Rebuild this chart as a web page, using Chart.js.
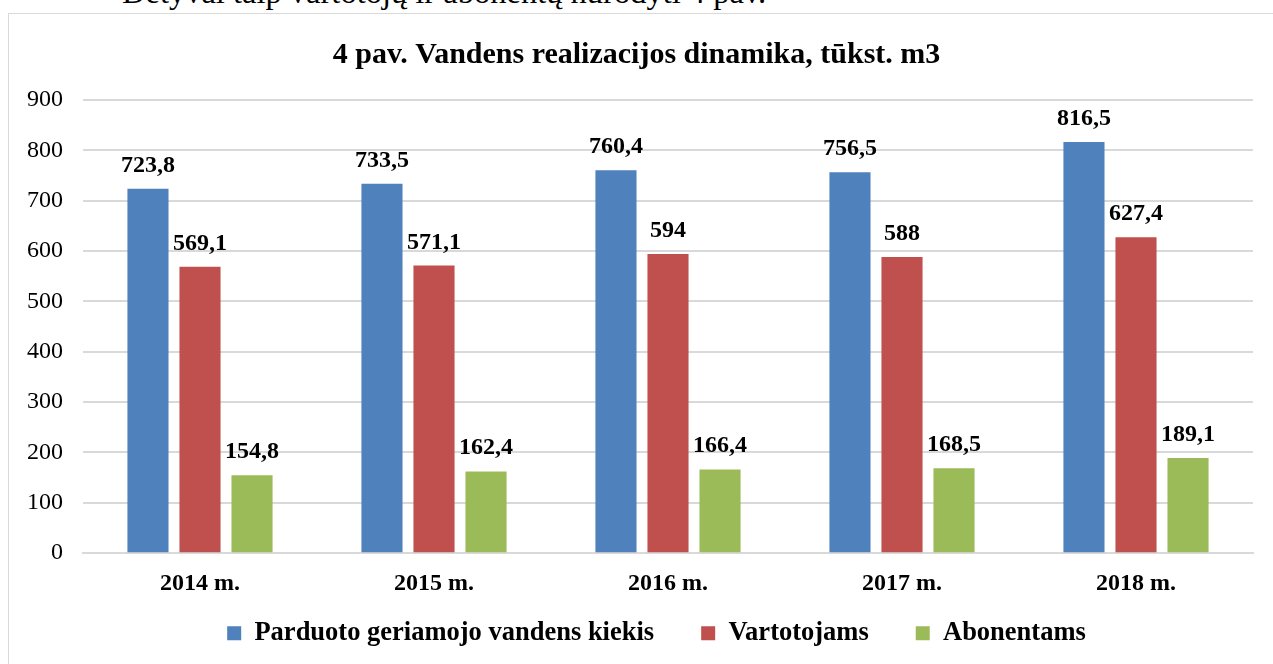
<!DOCTYPE html>
<html>
<head>
<meta charset="utf-8">
<script src="https://cdn.jsdelivr.net/npm/chart.js@4/dist/chart.umd.min.js"></script>
<style>
  html, body { margin: 0; padding: 0; background: #fff; overflow: hidden; }
  #page { position: relative; width: 1273px; height: 664px; }
  #above { position: absolute; left: 122px; top: -24px; font: 32.5px/32.5px "Liberation Serif", serif; color: #000; white-space: nowrap; }
  #frame { position: absolute; left: 8px; top: 13px; width: 1300px; height: 700px; border: 1px solid #d9d9d9; box-sizing: border-box; }
  #wrap { position: absolute; left: 0; top: 0; width: 1273px; height: 664px; }
</style>
</head>
<body>
<div id="page">
  <div id="above">Detyvai taip vartotojų ir abonentų nurodyti 4 pav.</div>
  <div id="frame"></div>
  <div id="wrap"><canvas id="chart" width="1273" height="664"></canvas></div>
</div>
<script>
'use strict';
const TITLE = '4 pav. Vandens realizacijos dinamika, tūkst. m3';
const years = ['2014 m.', '2015 m.', '2016 m.', '2017 m.', '2018 m.'];
const parduota = [723.8, 733.5, 760.4, 756.5, 816.5];
const vartotojams = [569.1, 571.1, 594, 588, 627.4];
const abonentams = [154.8, 162.4, 166.4, 168.5, 189.1];
const seriesNames = ['Parduoto geriamojo vandens kiekis', 'Vartotojams', 'Abonentams'];
const seriesColors = ['#4F81BD', '#C0504D', '#9BBB59'];

const SERIF = '"Liberation Serif", "Times New Roman", serif';

// labels above each bar, comma as decimal separator
const valueLabels = {
    id: 'valueLabels',
    afterDatasetsDraw(chart) {
        const ctx = chart.ctx;
        ctx.save();
        ctx.font = 'bold 24px ' + SERIF;
        ctx.fillStyle = '#000';
        ctx.textAlign = 'center';
        ctx.textBaseline = 'alphabetic';
        chart.data.datasets.forEach((ds, i) => {
            const meta = chart.getDatasetMeta(i);
            meta.data.forEach((bar, j) => {
                const txt = String(ds.data[j]).replace('.', ',');
                ctx.fillText(txt, bar.x, bar.y - 17);
            });
        });
        ctx.restore();
    }
};

// the legend keeps wide gaps between items but sits closer to the axis
const LEGEND_SHIFT_Y = 41;
const LEGEND_SHIFT_X = 20;
const legendNudge = {
    id: 'legendNudge',
    afterLayout(chart) {
        const lg = chart.legend;
        lg.top -= LEGEND_SHIFT_Y;
        lg.bottom -= LEGEND_SHIFT_Y;
        lg.left += LEGEND_SHIFT_X;
        lg.right += LEGEND_SHIFT_X;
    }
};

const allSeries = [parduota, vartotojams, abonentams];

new Chart(document.getElementById('chart'), {
    type: 'bar',
    data: {
        labels: years,
        datasets: allSeries.map((vals, i) => ({
            label: seriesNames[i],
            data: vals,
            backgroundColor: seriesColors[i],
            borderWidth: 0,
            categoryPercentage: 0.667,
            barPercentage: 0.79
        }))
    },
    options: {
        responsive: false,
        animation: false,
        layout: { padding: { left: 20, right: 20, top: 0, bottom: -33.5 } },
        plugins: {
            tooltip: { enabled: false },
            title: {
                display: true,
                text: TITLE,
                color: '#000',
                font: { family: SERIF, size: 30, weight: 'bold' },
                padding: { top: 37, bottom: 27 }
            },
            legend: {
                position: 'bottom',
                labels: {
                    color: '#000',
                    font: { family: SERIF, size: 26.5, weight: 'bold' },
                    boxWidth: 14,
                    boxHeight: 14,
                    padding: 47
                }
            }
        },
        scales: {
            x: {
                grid: { display: false, drawTicks: false },
                border: { color: '#d9d9d9', width: 2 },
                ticks: { color: '#000', padding: 16, font: { family: SERIF, size: 24, weight: 'bold' } }
            },
            y: {
                min: 0,
                max: 900,
                afterFit(scale) { scale.width = 63; },
                grid: { color: '#d9d9d9', lineWidth: 2, drawTicks: false },
                border: { display: false },
                ticks: { stepSize: 100, color: '#000', padding: 20, font: { family: SERIF, size: 24 } }
            }
        }
    },
    plugins: [valueLabels, legendNudge]
});
</script>
</body>
</html>
